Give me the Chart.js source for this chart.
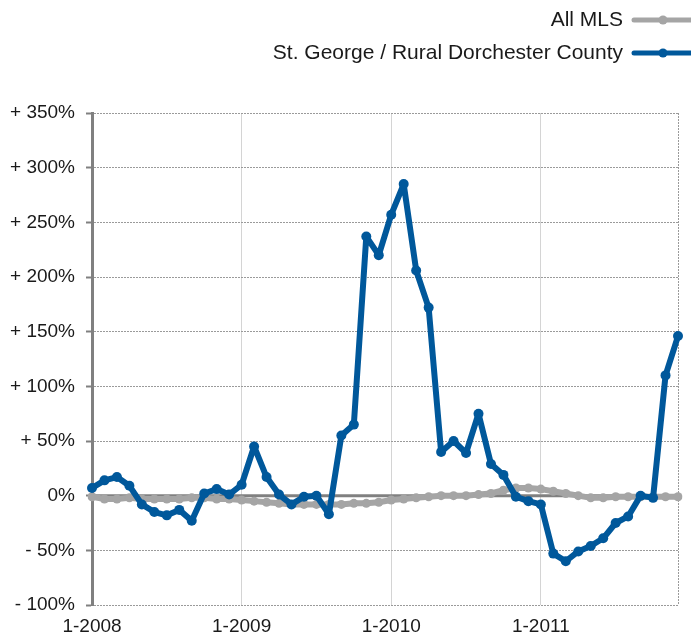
<!DOCTYPE html>
<html>
<head>
<meta charset="utf-8">
<script src="https://cdn.jsdelivr.net/npm/chart.js@4/dist/chart.umd.min.js"></script>
<style>
  html, body { margin: 0; padding: 0; background: #fff; }
  #wrap { position: relative; width: 691px; height: 636px; }
</style>
</head>
<body>
<div id="wrap"><canvas id="c" width="691" height="636"></canvas></div>
<script>
const months = [
  "1-2008","2-2008","3-2008","4-2008","5-2008","6-2008","7-2008","8-2008","9-2008","10-2008","11-2008","12-2008",
  "1-2009","2-2009","3-2009","4-2009","5-2009","6-2009","7-2009","8-2009","9-2009","10-2009","11-2009","12-2009",
  "1-2010","2-2010","3-2010","4-2010","5-2010","6-2010","7-2010","8-2010","9-2010","10-2010","11-2010","12-2010",
  "1-2011","2-2011","3-2011","4-2011","5-2011","6-2011","7-2011","8-2011","9-2011","10-2011","11-2011","12-2011"
];
const allMLS = [
  -1, -3, -3, -2, -3, -3, -3, -3, -2, -2, -3, -3,
  -4, -5, -6, -7, -8, -8, -8, -8, -8, -7, -7, -6,
  -4, -3, -2, -1, 0, 0, 0, 1, 2, 5, 7, 7,
  6, 4, 2, 0, -2, -2, -1, -1, -1, -1, -1, -1
];
const stGeorge = [
  7, 14, 17, 9, -8, -15, -18, -13, -23, 2, 6, 1,
  10, 45, 17, 1, -8, -1, 0, -17, 55, 65, 237, 220,
  257, 285, 206, 172, 40, 50, 39, 75, 29, 19, -1, -5,
  -8, -53, -60, -51, -46, -39, -25, -19, 0, -2, 110, 146
];
const seriesNames = ["All MLS", "St. George / Rural Dorchester County"];
const seriesColors = ["#a5a5a5", "#00589b"];
const yTicks = { min: -100, max: 350, step: 50 };

const FONT = "'Liberation Sans', Arial, Helvetica, sans-serif";

const framePlugin = {
  id: 'frame',
  beforeDatasetsDraw(chart) {
    const { ctx, chartArea, scales } = chart;
    const y0 = scales.y.getPixelForValue(0);
    ctx.save();
    ctx.strokeStyle = '#808080';
    ctx.lineWidth = 3;
    ctx.beginPath();
    ctx.moveTo(chartArea.left, y0);
    ctx.lineTo(chartArea.right, y0);
    ctx.stroke();
    ctx.strokeStyle = '#9a9a9a';
    ctx.lineWidth = 1;
    ctx.setLineDash([2, 1]);
    ctx.beginPath();
    ctx.moveTo(chartArea.right + 0.5, chartArea.top);
    ctx.lineTo(chartArea.right + 0.5, chartArea.bottom);
    ctx.stroke();
    ctx.restore();
  },
  afterDraw(chart) {
    const { ctx } = chart;
    const ds = chart.data.datasets;
    const rows = [20, 53];
    ctx.save();
    ctx.font = "21px " + FONT;
    ctx.textAlign = 'right';
    ctx.textBaseline = 'middle';
    ds.forEach((d, i) => {
      const y = rows[i];
      ctx.fillStyle = '#1a1a1a';
      ctx.fillText(d.label, 623, y);
      ctx.strokeStyle = d.borderColor;
      ctx.lineWidth = 5;
      ctx.lineCap = 'round';
      ctx.beginPath();
      ctx.moveTo(634, y);
      ctx.lineTo(691, y);
      ctx.stroke();
      ctx.fillStyle = d.borderColor;
      ctx.beginPath();
      ctx.arc(663, y, 4.5, 0, Math.PI * 2);
      ctx.fill();
    });
    ctx.restore();
  }
};

new Chart(document.getElementById('c'), {
  type: 'line',
  data: {
    labels: months,
    datasets: [
      {
        label: seriesNames[0], data: allMLS,
        borderColor: seriesColors[0], backgroundColor: seriesColors[0],
        borderWidth: 6, pointRadius: 4.5, pointBorderWidth: 0, tension: 0, order: 2,
        borderJoinStyle: 'round', borderCapStyle: 'round'
      },
      {
        label: seriesNames[1], data: stGeorge,
        borderColor: seriesColors[1], backgroundColor: seriesColors[1],
        borderWidth: 6, pointRadius: 5, pointBorderWidth: 0, tension: 0, order: 1,
        borderJoinStyle: 'round', borderCapStyle: 'round'
      }
    ]
  },
  options: {
    responsive: false,
    animation: false,
    layout: { padding: { top: 113, right: 13, left: 0, bottom: 0 } },
    plugins: { legend: { display: false }, tooltip: { enabled: false } },
    scales: {
      x: {
        type: 'category',
        offset: false,
        afterFit: s => { s.height = 31; },
        border: { display: false },
        grid: { color: '#d4d4d4', lineWidth: 1, drawTicks: false },
        ticks: {
          autoSkip: false, maxRotation: 0, padding: 10,
          color: '#1a1a1a', font: { family: FONT, size: 19 },
          callback: function (v, i) { const l = months[i]; return l.startsWith('1-') ? l : null; }
        }
      },
      y: {
        min: yTicks.min, max: yTicks.max,
        afterFit: s => { s.width = 92; },
        border: { display: true, color: '#808080', width: 3, dash: [2, 1] },
        grid: {
          color: '#9a9a9a', lineWidth: 1,
          drawTicks: true, tickLength: 6, tickColor: '#808080', tickWidth: 2, tickBorderDash: []
        },
        ticks: {
          stepSize: yTicks.step, padding: 11,
          color: '#1a1a1a', font: { family: FONT, size: 19 },
          callback: v => v > 0 ? '+ ' + v + '%' : (v < 0 ? '- ' + Math.abs(v) + '%' : '0%')
        }
      }
    }
  },
  plugins: [framePlugin]
});
</script>
</body>
</html>
